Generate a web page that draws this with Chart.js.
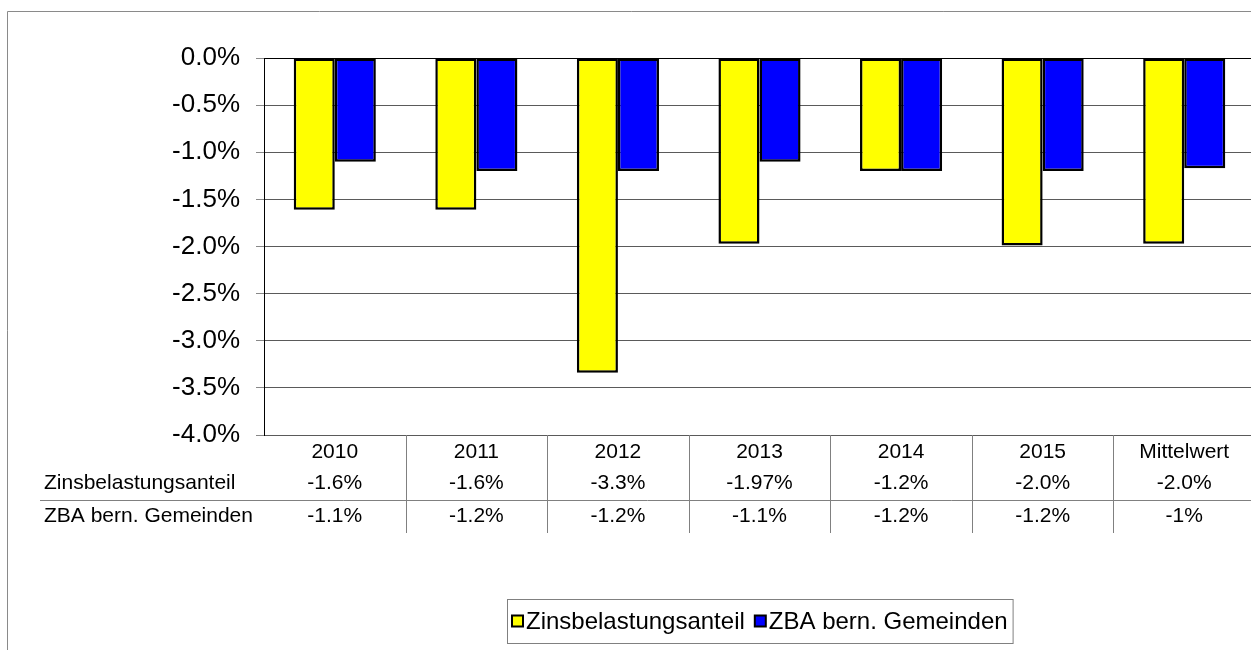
<!DOCTYPE html>
<html>
<head>
<meta charset="utf-8">
<script src="https://cdn.jsdelivr.net/npm/chart.js@4.4.1/dist/chart.umd.min.js"></script>
<style>
  html, body { margin: 0; padding: 0; background: #fff; overflow: hidden; }
  #wrap { position: relative; width: 1256px; height: 650px; }
</style>
</head>
<body>
<div id="wrap"><canvas id="zinsChart" width="1256" height="650"></canvas></div>
<script>
// chart data (values in percent)
const categories = ['2010', '2011', '2012', '2013', '2014', '2015', 'Mittelwert'];
const seriesNames = ['Zinsbelastungsanteil', 'ZBA bern. Gemeinden'];
const zinsValues = [-1.61, -1.61, -3.34, -1.97, -1.20, -1.99, -1.97];
const zbaValues = [-1.10, -1.20, -1.20, -1.10, -1.20, -1.20, -1.17];
// labels shown in the data table under the chart
const zinsTableLabels = ['-1.6%', '-1.6%', '-3.3%', '-1.97%', '-1.2%', '-2.0%', '-2.0%'];
const zbaTableLabels = ['-1.1%', '-1.2%', '-1.2%', '-1.1%', '-1.2%', '-1.2%', '-1%'];
const yMin = -4.0;
const yMax = 0.0;
const yStep = 0.5;

const FONT = '"Liberation Sans", Arial, sans-serif';

// ================================
// DATA TABLE + LEGEND + FRAME
// Excel style table drawn under the plot area
// ================================
const tablePlugin = {
    id: 'dataTable',
    afterDraw(chart) {
        const { ctx, chartArea } = chart;
        const x = chart.scales.x;
        const top = chartArea.bottom;
        ctx.save();

        // outer frame (only top + left are visible)
        ctx.strokeStyle = '#8a8a8a';
        ctx.lineWidth = 1;
        ctx.beginPath();
        ctx.moveTo(7.5, 650);
        ctx.lineTo(7.5, 11.5);
        ctx.lineTo(chart.width, 11.5);
        ctx.stroke();

        // table grid lines
        ctx.strokeStyle = '#808080';
        ctx.beginPath();
        for (let i = 0; i < categories.length - 1; i++) {
            const bx = Math.round((x.getPixelForValue(i) + x.getPixelForValue(i + 1)) / 2) + 0.5;
            ctx.moveTo(bx, top);
            ctx.lineTo(bx, top + 98);
        }
        ctx.moveTo(40, top + 65.5);
        ctx.lineTo(chartArea.right, top + 65.5);
        ctx.stroke();

        // table text
        ctx.fillStyle = '#000';
        ctx.font = '21px ' + FONT;
        ctx.textBaseline = 'middle';
        ctx.textAlign = 'left';
        ctx.fillText(seriesNames[0], 44, top + 48);
        ctx.fillText(seriesNames[1], 44, top + 81);
        ctx.textAlign = 'center';
        categories.forEach((c, i) => {
            const cx = x.getPixelForValue(i);
            ctx.fillText(c, cx, top + 17);
            ctx.fillText(zinsTableLabels[i], cx, top + 48);
            ctx.fillText(zbaTableLabels[i], cx, top + 81);
        });

        // legend
        ctx.font = '24px ' + FONT;
        const box = 11, gap = 3, itemGap = 10, padX = 5;
        const widths = chart.data.datasets.map(d => ctx.measureText(d.label).width);
        const total = padX * 2 + widths.reduce((s, w) => s + box + gap + w, 0) + itemGap;
        const center = (chartArea.left + chartArea.right) / 2;
        const lx = Math.round(center - total / 2);
        const ly = 599;
        const lh = 44;
        ctx.strokeStyle = '#808080';
        ctx.lineWidth = 1;
        ctx.strokeRect(lx + 0.5, ly + 0.5, total, lh);
        let cx = lx + padX;
        const midY = ly + lh / 2;
        chart.data.datasets.forEach((d, i) => {
            ctx.fillStyle = d.backgroundColor;
            ctx.fillRect(cx, midY - box / 2, box, box);
            ctx.strokeStyle = '#000';
            ctx.lineWidth = 2;
            ctx.strokeRect(cx, midY - box / 2, box, box);
            ctx.fillStyle = '#000';
            ctx.textAlign = 'left';
            ctx.fillText(d.label, cx + box + gap, midY + 1);
            cx += box + gap + widths[i] + itemGap;
        });
        ctx.restore();
    }
};

const ctx = document.getElementById('zinsChart').getContext('2d');
new Chart(ctx, {
    type: 'bar',
    data: {
        labels: categories,
        datasets: [
            {
                label: seriesNames[0],
                data: zinsValues,
                backgroundColor: '#FFFF00',
                borderColor: '#000000',
                borderWidth: 2.5,
                borderSkipped: false,
            },
            {
                label: seriesNames[1],
                data: zbaValues,
                backgroundColor: '#0000FF',
                borderColor: '#000000',
                borderWidth: 2.5,
                borderSkipped: false,
            }
        ]
    },
    options: {
        responsive: false,
        animation: false,
        layout: { padding: { left: 0, top: 58, right: 1, bottom: 215 } },
        datasets: { bar: { categoryPercentage: 0.58, barPercentage: 1.0 } },
        scales: {
            x: { display: false },
            y: {
                min: yMin,
                max: yMax,
                afterFit(scale) { scale.width = 264; },
                ticks: {
                    stepSize: yStep,
                    padding: 16,
                    color: '#000',
                    font: { family: FONT, size: 26 },
                    callback: v => v.toFixed(1) + '%'
                },
                grid: {
                    color: c => (c.tick && c.tick.value === 0 ? '#000' : '#5a5a5a'),
                    tickColor: '#888',
                    tickLength: 8,
                    lineWidth: 1
                },
                border: { display: true, color: '#000', width: 1 }
            }
        },
        plugins: {
            legend: { display: false },
            tooltip: { enabled: false }
        }
    },
    plugins: [tablePlugin]
});
</script>
</body>
</html>
